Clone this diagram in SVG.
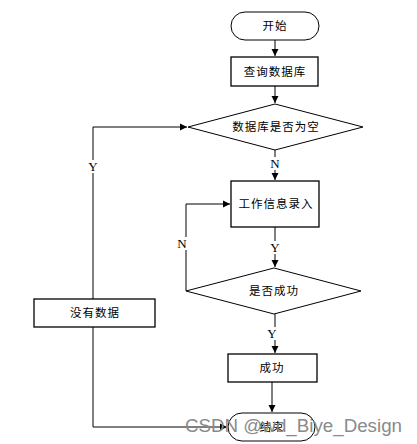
<svg xmlns="http://www.w3.org/2000/svg" width="417" height="444" viewBox="0 0 417 444">
<style>
.s{fill:#fff;stroke:#000;stroke-width:1}
.b{fill:#fff;stroke:#000;stroke-width:1.3}
.t{font-family:"Noto Sans CJK SC",sans-serif;font-size:11.5px;fill:#000;text-anchor:middle;letter-spacing:1px}
.l{font-family:"Liberation Serif",serif;font-size:13px;fill:#000;text-anchor:middle}
.lb{fill:#fff}
.c{fill:none;stroke:#000;stroke-width:1}
.wm{font-family:"Liberation Sans",sans-serif;font-size:18px;fill:#8a8a8a}
</style>
<defs>
<marker id="a" markerWidth="8" markerHeight="8" refX="7" refY="4" orient="auto" markerUnits="userSpaceOnUse">
<path d="M0,0.5 L7,4 L0,7.5 Z" fill="#000"/>
</marker>
</defs>
<rect width="417" height="444" fill="#fff"/>
<g id="edges">
<path class="c" d="M275,40 V56" marker-end="url(#a)"/>
<path class="c" d="M275,86 V103" marker-end="url(#a)"/>
<path class="c" d="M275,150 V180" marker-end="url(#a)"/>
<path class="c" d="M275,227 V267" marker-end="url(#a)"/>
<path class="c" d="M275,314 V353" marker-end="url(#a)"/>
<path class="c" d="M272,382 V412" marker-end="url(#a)"/>
<path class="c" d="M186,291 V204 H230" marker-end="url(#a)"/>
<path class="c" d="M93,299 V127 H187" marker-end="url(#a)"/>
<path class="c" d="M93,327 V427 H227" marker-end="url(#a)"/>
<rect class="lb" x="269" y="157" width="12" height="13"/>
<text class="l" x="275" y="168">N</text>
<rect class="lb" x="269" y="241" width="12" height="13"/>
<text class="l" x="275" y="252">Y</text>
<rect class="lb" x="266" y="327" width="12" height="13"/>
<text class="l" x="272" y="338">Y</text>
<rect class="lb" x="176" y="237" width="12" height="13"/>
<text class="l" x="182" y="248">N</text>
<rect class="lb" x="87" y="160" width="12" height="13"/>
<text class="l" x="93" y="171">Y</text>
</g>
<g id="start">
<rect class="s" x="231" y="12" width="88" height="28" rx="14"/>
<text class="t" x="275" y="30">开始</text>
</g>
<g id="query">
<rect class="b" x="231" y="57" width="87" height="29"/>
<text class="t" x="275" y="76">查询数据库</text>
</g>
<g id="empty">
<polygon class="s" points="275,104 363,127 275,150 188,127"/>
<text class="t" x="276" y="131">数据库是否为空</text>
</g>
<g id="input">
<rect class="b" x="231" y="181" width="88" height="46"/>
<text class="t" x="276" y="208">工作信息录入</text>
</g>
<g id="ok">
<polygon class="s" points="274,268 361,291 274,314 186,291"/>
<text class="t" x="274" y="295">是否成功</text>
</g>
<g id="nodata">
<rect class="b" x="34" y="299" width="121" height="28"/>
<text class="t" x="95" y="317">没有数据</text>
</g>
<g id="success">
<rect class="b" x="228" y="354" width="89" height="28"/>
<text class="t" x="272" y="372">成功</text>
</g>
<g id="end">
<rect class="s" x="228" y="413" width="87" height="28" rx="14"/>
<text class="t" x="272" y="431">结束</text>
</g>
<text class="wm" x="185" y="432" textLength="217" lengthAdjust="spacingAndGlyphs">CSDN @wd_Biye_Design</text>
</svg>
